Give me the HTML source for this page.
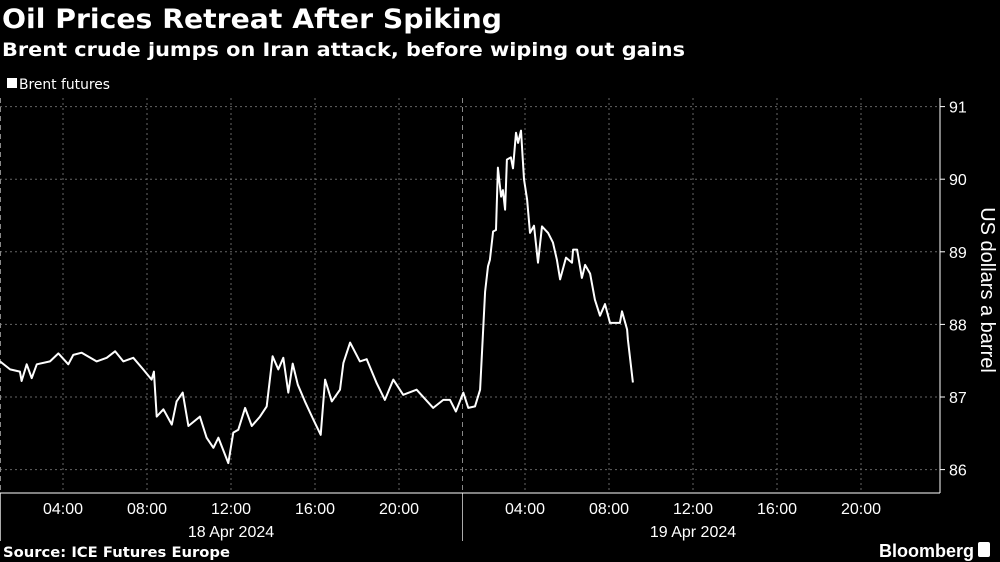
<!DOCTYPE html>
<html><head><meta charset="utf-8"><style>
html,body{margin:0;padding:0;background:#000;width:1000px;height:562px;overflow:hidden}
svg{display:block}
text{font-family:"Liberation Sans Narrow","Liberation Sans",sans-serif;fill:#fff}
</style></head><body>
<svg id="chart" width="1000" height="562" viewBox="0 0 1000 562">
<text x="2" y="28" textLength="500" lengthAdjust="spacingAndGlyphs" style="font-family:'DejaVu Sans','Liberation Sans',sans-serif;font-weight:bold;font-size:27px">Oil Prices Retreat After Spiking</text>
<text x="2" y="56" textLength="683" lengthAdjust="spacingAndGlyphs" style="font-family:'DejaVu Sans','Liberation Sans',sans-serif;font-weight:bold;font-size:19px">Brent crude jumps on Iran attack, before wiping out gains</text>
<g>
<rect x="7" y="78" width="10" height="10" fill="#fff"/>
<text x="19" y="89" textLength="91" lengthAdjust="spacingAndGlyphs" style="font-family:'DejaVu Sans','Liberation Sans',sans-serif;font-size:14px">Brent futures</text>
</g>
<g id="grid"></g>
<g id="axes"></g>
<path id="line" fill="none" stroke="#fff" stroke-width="2" stroke-linejoin="round"/>
<text transform="translate(981,290) rotate(90)" text-anchor="middle" style="font-size:20px">US dollars a barrel</text>
<text x="3" y="557" textLength="227" lengthAdjust="spacingAndGlyphs" style="font-family:'DejaVu Sans','Liberation Sans',sans-serif;font-weight:bold;font-size:14px">Source: ICE Futures Europe</text>
<text x="974" y="557" text-anchor="end" style="font-family:'Liberation Sans',sans-serif;font-weight:bold;font-size:18px">Bloomberg</text>
<rect x="978" y="542" width="12" height="15" rx="2" fill="#fff"/>
</svg>
<script>
const times=[1.00,1.48,1.95,2.03,2.27,2.51,2.75,3.38,3.78,4.25,4.49,4.89,5.60,6.08,6.48,6.87,7.35,7.82,8.22,8.33,8.46,8.78,9.18,9.41,9.70,9.97,10.52,10.84,11.16,11.40,11.87,12.11,12.35,12.67,12.99,13.38,13.70,13.98,14.25,14.49,14.73,14.94,15.18,15.52,15.92,16.27,16.48,16.80,17.19,17.35,17.67,18.14,18.46,18.94,19.33,19.73,20.20,20.84,21.63,22.11,22.43,22.71,25.06,25.30,25.62,25.86,26.10,26.24,26.33,26.48,26.62,26.71,26.86,26.95,27.05,27.14,27.33,27.43,27.57,27.67,27.81,27.95,28.10,28.24,28.43,28.62,28.81,29.10,29.33,29.52,29.67,29.95,30.24,30.29,30.48,30.71,30.86,31.10,31.33,31.57,31.81,32.05,32.52,32.62,32.86,32.90,33.14];
const prices=[87.49,87.38,87.35,87.22,87.45,87.26,87.45,87.49,87.60,87.45,87.58,87.61,87.49,87.54,87.63,87.49,87.54,87.38,87.24,87.35,86.73,86.83,86.62,86.94,87.06,86.60,86.73,86.44,86.30,86.44,86.09,86.51,86.55,86.85,86.60,86.73,86.87,87.56,87.38,87.54,87.06,87.46,87.17,86.94,86.69,86.48,87.24,86.94,87.10,87.47,87.75,87.49,87.52,87.19,86.96,87.24,87.03,87.10,86.85,86.96,86.96,86.80,87.06,86.85,86.87,87.10,88.45,88.80,88.89,89.28,89.30,90.16,89.76,89.85,89.58,90.27,90.30,90.15,90.64,90.50,90.67,90.00,89.72,89.26,89.36,88.85,89.35,89.26,89.13,88.89,88.62,88.92,88.85,89.03,89.03,88.64,88.82,88.70,88.34,88.12,88.28,88.02,88.02,88.18,87.93,87.79,87.20];
const yTicks=[86,87,88,89,90,91];
const xTickHours=[4,8,12,16,20];
const xTickLabels=["04:00","08:00","12:00","16:00","20:00"];
const dayLabels=["18 Apr 2024","19 Apr 2024"];

const NS="http://www.w3.org/2000/svg";
const PX_PER_H=21, DAY_W=462, TOP=98, BOT=493, RIGHT=940;
function xScale(h){const d=Math.floor(h/24);return d*DAY_W+(h-d*24-1)*PX_PER_H;}
function yScale(v){return 397-(v-87)*72.6;}
function mk(tag,attrs,parent){const e=document.createElementNS(NS,tag);for(const k in attrs)e.setAttribute(k,attrs[k]);parent.appendChild(e);return e;}
const grid=document.getElementById('grid'), axes=document.getElementById('axes');
yTicks.forEach(v=>{
  const y=yScale(v);
  const l=mk('line',{x1:0,x2:RIGHT,y1:y,y2:y,stroke:'#666','stroke-width':1,'stroke-dasharray':'2,3'},grid);
  
  
  const t=mk('line',{x1:RIGHT,x2:RIGHT+5,y1:y,y2:y,stroke:'#fff','stroke-width':1},axes);
  
  
  const tx=mk('text',{x:RIGHT+9,y:y+6,'font-size':16},axes);
  tx.textContent=String(v);
  
  
});
[0,1].forEach(d=>{
  xTickHours.forEach((h,i)=>{
    const x=xScale(d*24+h);
    const g=mk('line',{x1:x,x2:x,y1:TOP,y2:BOT,stroke:'#666','stroke-width':1,'stroke-dasharray':'2,3'},grid);
    
    
    const t=mk('text',{x:x,y:514,'text-anchor':'middle','font-size':16},axes);
    t.textContent=xTickLabels[i];
    
    
  });
  const dl=mk('text',{x:xScale(d*24+12),y:537,'text-anchor':'middle','font-size':16},axes);
  dl.textContent=dayLabels[d];
  
  
  const sx=d*DAY_W+0.5;
  const sep=mk('line',{x1:sx,x2:sx,y1:TOP,y2:BOT,stroke:'#888','stroke-width':1,'stroke-dasharray':'5,4'},grid);
  
  
  const st=mk('line',{x1:sx,x2:sx,y1:BOT,y2:541,stroke:'#aaa','stroke-width':1},axes);
  
  
});
const xa=mk('line',{x1:0,x2:RIGHT,y1:BOT,y2:BOT,stroke:'#fff','stroke-width':1},axes);


const ya=mk('line',{x1:RIGHT,x2:RIGHT,y1:TOP,y2:BOT,stroke:'#fff','stroke-width':1},axes);


let d='';
times.forEach((h,i)=>{d+=(i?'L':'M')+xScale(h).toFixed(1)+','+yScale(prices[i]).toFixed(1);});
document.getElementById('line').setAttribute('d',d);
</script>
</body></html>
